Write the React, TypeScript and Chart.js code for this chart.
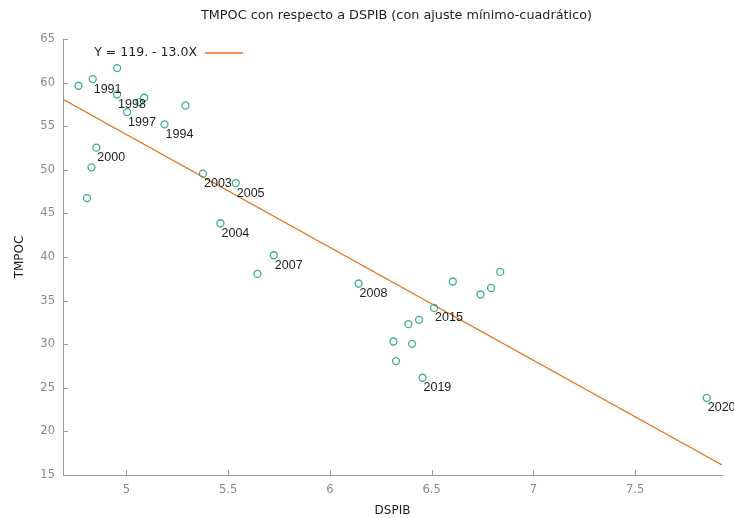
import React, { useEffect, useRef } from "react";
import { Chart, registerables } from "chart.js";

Chart.register(...registerables);

// DSPIB (x) values of each observation
const dspib: number[] = [
  4.764, 4.834, 4.954, 4.954, 5.003, 5.064, 5.087, 5.187, 5.29, 4.852,
  4.828, 4.806, 5.376, 5.537, 5.462, 5.724, 5.644, 6.141, 6.604, 6.837,
  6.792, 6.74, 6.512, 6.438, 6.386, 6.312, 6.404, 6.325, 6.455, 7.852,
];
// TMPOC (y) values of each observation
const tmpoc: number[] = [
  59.64, 60.4, 61.66, 58.64, 56.62, 57.76, 58.26, 55.21, 57.38, 52.54,
  50.28, 46.76, 49.56, 48.48, 43.87, 40.2, 38.06, 36.96, 37.19, 38.29,
  36.45, 35.7, 34.16, 32.79, 32.3, 30.31, 30.04, 28.06, 26.15, 23.85,
];
// Year labels shown next to points ('' = no label)
const pointLabels: string[] = [
  "", "1991", "", "1998", "1997", "", "", "1994", "", "2000",
  "", "", "2003", "2005", "2004", "2007", "", "2008", "", "",
  "", "", "2015", "", "", "", "", "", "2019", "2020",
];
// Least-squares fit Y = a + b X
const fitIntercept = 118.8;
const fitSlope = -12.95;
const legendText = "Y = 119. - 13.0X";
// Axis ranges and ticks
const xRange: number[] = [4.688, 7.927];
const yRange: number[] = [15, 65];
const xTicks: number[] = [5, 5.5, 6, 6.5, 7, 7.5];
const yTicks: number[] = [15, 20, 25, 30, 35, 40, 45, 50, 55, 60, 65];

const titleText = "TMPOC con respecto a DSPIB (con ajuste mínimo-cuadrático)";
const xTitle = "DSPIB";
const yTitle = "TMPOC";

const GREEN = "#3fad89";
const ORANGE = "#e8701a";
const AXIS = "#9a9a9a";
const TICKTXT = "#8a8a8a";
const DARK = "#1e1e1e";
const FONT = "'DejaVu Sans', sans-serif";

const decorPlugin = {
  id: "decor",
  afterDatasetsDraw(chart: any) {
    const ctx = chart.ctx as CanvasRenderingContext2D;
    const area = chart.chartArea;
    const xs = chart.scales.x;
    const ys = chart.scales.y;
    ctx.save();
    // inward tick marks
    ctx.strokeStyle = AXIS;
    ctx.lineWidth = 1;
    ctx.beginPath();
    xTicks.forEach((v) => {
      const px = Math.round(xs.getPixelForValue(v)) + 0.5;
      ctx.moveTo(px, area.bottom);
      ctx.lineTo(px, area.bottom - 5);
    });
    yTicks.forEach((v) => {
      const py = Math.round(ys.getPixelForValue(v)) + 0.5;
      ctx.moveTo(area.left, py);
      ctx.lineTo(area.left + 5, py);
    });
    ctx.stroke();

    // point labels
    ctx.fillStyle = DARK;
    ctx.font = "12.5px 'Liberation Sans', sans-serif";
    ctx.textAlign = "left";
    ctx.textBaseline = "middle";
    pointLabels.forEach((lab, i) => {
      if (!lab) return;
      const px = xs.getPixelForValue(dspib[i]);
      const py = ys.getPixelForValue(tmpoc[i]);
      ctx.fillText(lab, px + 1, py + 10);
    });

    // title
    ctx.font = `12.8px ${FONT}`;
    ctx.textAlign = "center";
    ctx.fillText(titleText, (area.left + area.right) / 2 + 4, 16);

    // axis titles
    ctx.font = `12px ${FONT}`;
    ctx.fillText(xTitle, (area.left + area.right) / 2, 511);
    ctx.save();
    ctx.translate(20, (area.top + area.bottom) / 2);
    ctx.rotate(-Math.PI / 2);
    ctx.fillText(yTitle, 0, 0);
    ctx.restore();

    // legend
    const ly = area.top + 14;
    ctx.font = `12.5px ${FONT}`;
    ctx.textAlign = "right";
    ctx.fillText(legendText, area.left + 134, ly);
    ctx.strokeStyle = ORANGE;
    ctx.lineWidth = 1.3;
    ctx.beginPath();
    ctx.moveTo(area.left + 142, ly);
    ctx.lineTo(area.left + 180, ly);
    ctx.stroke();
    ctx.restore();
  },
};

export default function App() {
  const ref = useRef<HTMLCanvasElement | null>(null);
  useEffect(() => {
    if (!ref.current) return;
    const points = dspib.map((x, i) => ({ x, y: tmpoc[i] }));
    const fitLine = xRange.map((x) => ({ x, y: fitIntercept + fitSlope * x }));
    const chart = new Chart(ref.current, {
      type: "scatter",
      data: {
        datasets: [
          {
            label: "obs",
            data: points,
            pointStyle: "circle",
            pointRadius: 3.5,
            pointBorderWidth: 1.3,
            borderColor: GREEN,
            backgroundColor: "rgba(0,0,0,0)",
            showLine: false,
          },
          {
            label: "fit",
            type: "line",
            data: fitLine,
            borderColor: ORANGE,
            borderWidth: 1.2,
            pointRadius: 0,
            fill: false,
          } as any,
        ],
      },
      options: {
        responsive: false,
        animation: false,
        events: [],
        layout: { padding: { left: 0, top: 39, right: 12, bottom: 0 } },
        plugins: {
          legend: { display: false },
          title: { display: false },
          tooltip: { enabled: false },
        },
        scales: {
          x: {
            type: "linear",
            min: xRange[0],
            max: xRange[1],
            afterFit: (s: any) => {
              s.height = 43;
            },
            afterBuildTicks: (s: any) => {
              s.ticks = xTicks.map((v) => ({ value: v }));
            },
            grid: { display: false, drawTicks: false },
            border: { display: true, color: AXIS, width: 1 },
            ticks: {
              color: TICKTXT,
              font: { family: FONT, size: 11.5 },
              padding: 8,
              maxRotation: 0,
              callback: (v: any) => String(v),
            },
          },
          y: {
            type: "linear",
            min: yRange[0],
            max: yRange[1],
            afterFit: (s: any) => {
              s.width = 63;
            },
            afterBuildTicks: (s: any) => {
              s.ticks = yTicks.map((v) => ({ value: v }));
            },
            grid: { display: false, drawTicks: false },
            border: { display: true, color: AXIS, width: 1 },
            ticks: {
              color: TICKTXT,
              font: { family: FONT, size: 11.5 },
              padding: 8,
              callback: (v: any) => String(v),
            },
          },
        },
      },
      plugins: [decorPlugin],
    });
    return () => chart.destroy();
  }, []);
  return (
    <canvas
      ref={ref}
      width={734}
      height={518}
      style={{ position: "absolute", left: 0, top: 0, width: 734, height: 518 }}
    />
  );
}
